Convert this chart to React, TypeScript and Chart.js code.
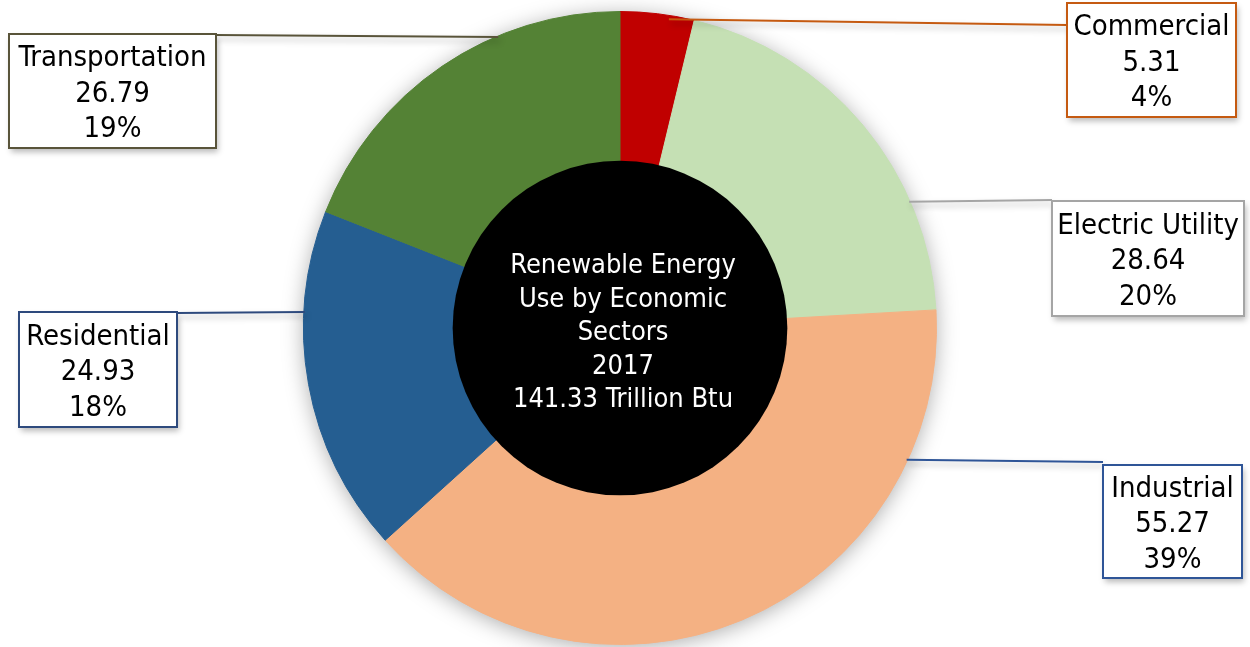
import React, { useEffect, useRef } from "react";
import { Chart, registerables } from "chart.js";

Chart.register(...registerables);

const categories = ["Commercial", "Electric Utility", "Industrial", "Residential", "Transportation"];
const values = [5.31, 28.64, 55.27, 24.93, 26.79];
const sliceColors = ["#C00000", "#C5E0B4", "#F4B183", "#255E91", "#548235"];
const borderColors = ["#C55A11", "#A5A5A5", "#2F5597", "#2E4A7D", "#59543A"];
const centerLines = ["Renewable Energy", "Use by Economic", "Sectors", "2017", "141.33 Trillion Btu"];

// label box layout (styling only)
const boxes = [
  { x: 1067, y: 3, w: 169, h: 114, ax: 1067, ay: 25, angle: 9, inset: 4 },
  { x: 1052, y: 201, w: 192, h: 115, ax: 1052, ay: 200, angle: 66.4, inset: 1 },
  { x: 1103, y: 465, w: 139, h: 113, ax: 1103, ay: 462, angle: 114.7, inset: 1 },
  { x: 19, y: 312, w: 158, h: 115, ax: 177, ay: 313, angle: 272.9, inset: 1 },
  { x: 9, y: 34, w: 207, h: 114, ax: 215, ay: 35, angle: 337.3, inset: 1 },
];

const FONT = '"DejaVu Sans Condensed", "DejaVu Sans", Tahoma, sans-serif';

export default function App() {
  const ref = useRef<HTMLCanvasElement | null>(null);
  useEffect(() => {
    document.body.style.margin = "0";
    const canvas = ref.current!;
    const total = values.reduce((a, b) => a + b, 0);

    const overlay = {
      id: "overlay",
      beforeDatasetsDraw(chart: any) {
        const arc = chart.getDatasetMeta(0).data[0];
        const { x, y, outerRadius } = arc.getProps(["x", "y", "outerRadius"], true);
        const ctx = chart.ctx;
        ctx.save();
        ctx.shadowColor = "rgba(0,0,0,0.35)";
        ctx.shadowBlur = 22;
        ctx.shadowOffsetY = 3;
        ctx.beginPath();
        ctx.arc(x, y, outerRadius - 1, 0, Math.PI * 2);
        ctx.fillStyle = "#ffffff";
        ctx.fill();
        ctx.restore();
      },
      afterDatasetsDraw(chart: any) {
        const meta = chart.getDatasetMeta(0);
        const arc0 = meta.data[0];
        const { x: cx, y: cy, outerRadius, innerRadius } = arc0.getProps(
          ["x", "y", "outerRadius", "innerRadius"],
          true
        );
        const ctx = chart.ctx;
        // center circle
        ctx.save();
        ctx.beginPath();
        ctx.arc(cx, cy, innerRadius + 1.5, 0, Math.PI * 2);
        ctx.fillStyle = "#000000";
        ctx.fill();
        ctx.fillStyle = "#ffffff";
        ctx.font = `27px ${FONT}`;
        ctx.textAlign = "center";
        ctx.textBaseline = "middle";
        const lh = 33.5;
        centerLines.forEach((t, i) => {
          ctx.fillText(t, cx + 3, cy + 5 + (i - (centerLines.length - 1) / 2) * lh);
        });
        ctx.restore();

        // leader lines and boxes
        categories.forEach((cat, i) => {
          const b = boxes[i];
          const th = (b.angle * Math.PI) / 180;
          const r = outerRadius - b.inset;
          const px = cx + r * Math.sin(th);
          const py = cy - r * Math.cos(th);
          ctx.save();
          ctx.shadowColor = "rgba(0,0,0,0.28)";
          ctx.shadowBlur = 6;
          ctx.shadowOffsetX = 2;
          ctx.shadowOffsetY = 4;
          ctx.strokeStyle = borderColors[i];
          ctx.lineWidth = 2;
          ctx.beginPath();
          ctx.moveTo(px, py);
          ctx.lineTo(b.ax, b.ay);
          ctx.stroke();
          ctx.fillStyle = "#ffffff";
          ctx.fillRect(b.x, b.y, b.w, b.h);
          ctx.restore();
          ctx.save();
          ctx.strokeStyle = borderColors[i];
          ctx.lineWidth = 2;
          ctx.strokeRect(b.x, b.y, b.w, b.h);
          ctx.fillStyle = "#000000";
          ctx.font = `29px ${FONT}`;
          ctx.textAlign = "center";
          ctx.textBaseline = "middle";
          const lines = [cat, values[i].toFixed(2), Math.round((values[i] / total) * 100) + "%"];
          const lh = 35.5;
          const mx = b.x + b.w / 2;
          const my = b.y + b.h / 2 + 3;
          lines.forEach((t, j) => ctx.fillText(t, mx, my + (j - 1) * lh));
          ctx.restore();
        });
      },
    };

    const chart = new Chart(canvas, {
      type: "doughnut",
      data: {
        labels: categories,
        datasets: [
          {
            data: values,
            backgroundColor: sliceColors,
            borderColor: sliceColors,
            borderWidth: 1,
          },
        ],
      },
      options: {
        animation: false,
        responsive: false,
        cutout: "52.4%",
        layout: { padding: { top: 11, bottom: 2, left: 303, right: 313 } },
        plugins: {
          legend: { display: false },
          tooltip: { enabled: false },
        },
      },
      plugins: [overlay],
    });
    return () => chart.destroy();
  }, []);

  return (
    <div style={{ position: "absolute", left: 0, top: 0, width: 1250, height: 647 }}>
      <canvas ref={ref} width={1250} height={647} style={{ display: "block", width: 1250, height: 647 }} />
    </div>
  );
}
